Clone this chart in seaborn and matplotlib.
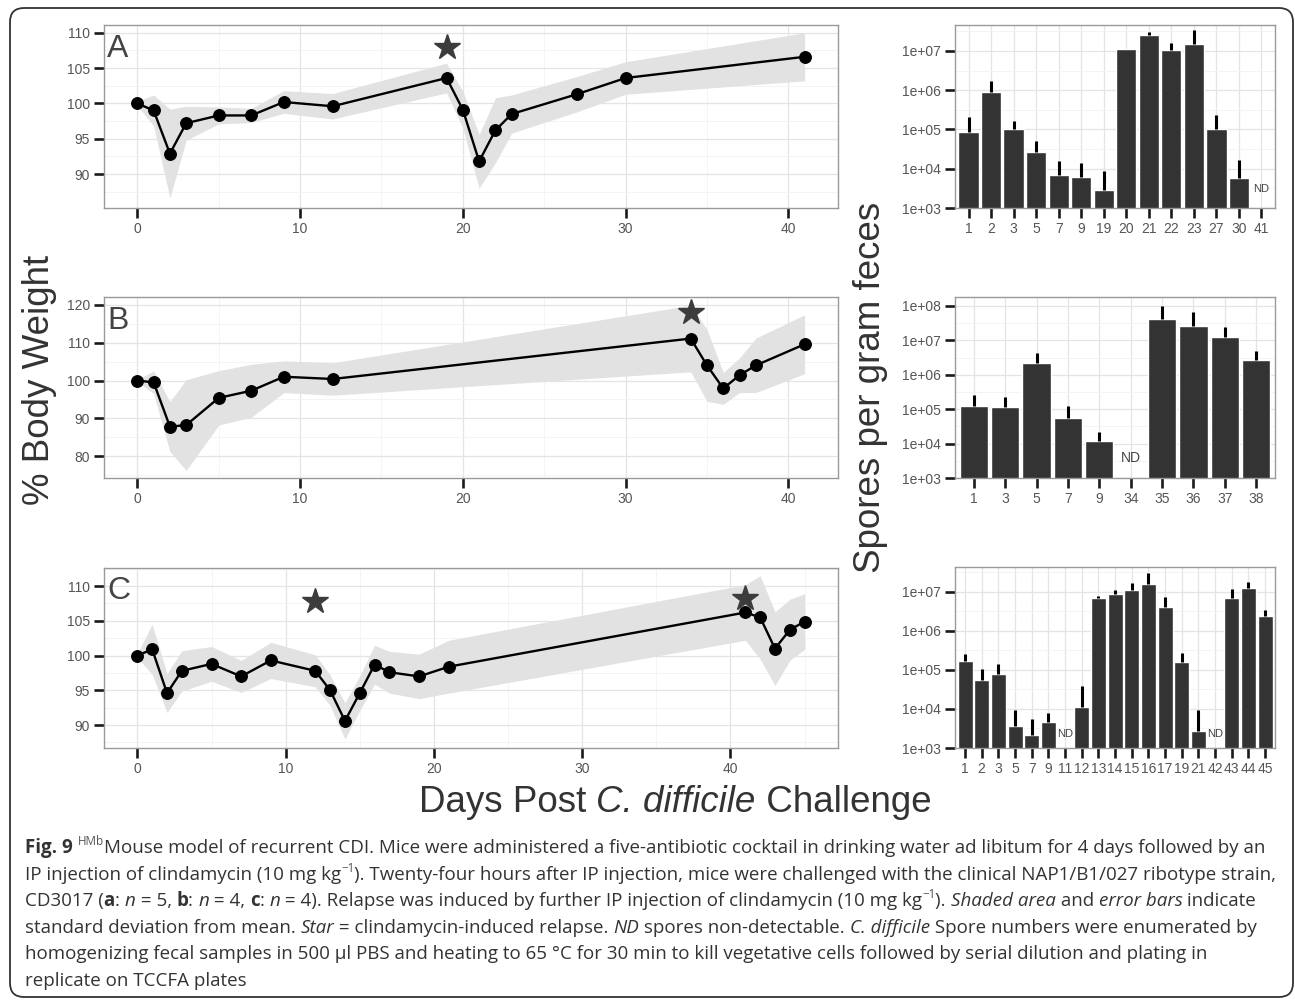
import numpy as np
import pandas as pd
import matplotlib
matplotlib.use("Agg")
import matplotlib.pyplot as plt
import seaborn as sns
from matplotlib.patches import FancyBboxPatch
from matplotlib.ticker import FixedLocator, MultipleLocator, NullFormatter

# ---------------------------
# data
# ---------------------------

# A: body weight (% of day 0), mean and SD
days_a = [0, 1, 2, 3, 5, 7, 9, 12, 19, 20, 21, 22, 23, 27, 30, 41]
weight_a = [100, 99.0, 92.9, 97.2, 98.3, 98.3, 100.2, 99.6, 103.6, 99.1, 91.8, 96.2, 98.5, 101.3, 103.6, 106.6]
sd_a = [0.3, 2.2, 6.3, 2.4, 1.2, 1.0, 1.6, 1.8, 2.1, 2.6, 3.8, 4.6, 2.7, 2.5, 2.3, 3.4]
star_a_day = [19]
star_a_y = [108.0]

# B
days_b = [0, 1, 2, 3, 5, 7, 9, 12, 34, 35, 36, 37, 38, 41]
weight_b = [100, 99.5, 87.8, 88.2, 95.4, 97.3, 101.0, 100.4, 111.1, 104.0, 97.9, 101.4, 104.0, 109.6]
sd_b = [0.3, 3.0, 6.6, 12.0, 7.2, 7.0, 4.2, 4.3, 8.8, 9.5, 4.2, 4.6, 7.2, 7.8]
star_b_day = [34]
star_b_y = [118.0]

# C
days_c = [0, 1, 2, 3, 5, 7, 9, 12, 13, 14, 15, 16, 17, 19, 21, 41, 42, 43, 44, 45]
weight_c = [100, 100.9, 94.6, 97.8, 98.8, 97.0, 99.3, 97.8, 95.0, 90.6, 94.6, 98.7, 97.6, 97.0, 98.4,
            106.2, 105.5, 101.0, 103.7, 104.9]
sd_c = [0.3, 3.6, 2.8, 2.9, 2.5, 2.3, 2.6, 2.3, 2.2, 2.6, 2.5, 2.8, 3.0, 3.2, 3.8,
        4.0, 6.0, 5.3, 4.4, 4.0]
star_c_day = [12, 41]
star_c_y = [107.8, 108.3]

# spores per gram feces (NaN = not detectable), upper end of error bar
spore_days_a = ['1', '2', '3', '5', '7', '9', '19', '20', '21', '22', '23', '27', '30', '41']
spores_a = [8.7e4, 8.9e5, 1.0e5, 2.7e4, 7.1e3, 6.3e3, 2.9e3, 1.15e7, 2.6e7, 1.07e7, 1.5e7, 1.0e5, 5.9e3, np.nan]
spores_a_hi = [2.1e5, 1.7e6, 1.66e5, 5.1e4, 1.55e4, 1.4e4, 8.7e3, 1.15e7, 3.0e7, 1.6e7, 3.5e7, 2.4e5, 1.7e4, np.nan]

spore_days_b = ['1', '3', '5', '7', '9', '34', '35', '36', '37', '38']
spores_b = [1.26e5, 1.18e5, 2.15e6, 5.5e4, 1.2e4, np.nan, 4.3e7, 2.7e7, 1.26e7, 2.6e6]
spores_b_hi = [2.5e5, 2.2e5, 4.2e6, 1.26e5, 2.2e4, np.nan, 1.0e8, 6.8e7, 2.5e7, 4.9e6]

spore_days_c = ['1', '2', '3', '5', '7', '9', '11', '12', '13', '14', '15', '16', '17', '19', '21', '42', '43', '44', '45']
spores_c = [1.74e5, 5.5e4, 7.9e4, 3.7e3, 2.2e3, 4.6e3, np.nan, 1.15e4, 6.9e6, 9.1e6, 1.1e7, 1.58e7, 4.2e6,
            1.6e5, 2.8e3, np.nan, 6.9e6, 1.24e7, 2.4e6]
spores_c_hi = [2.6e5, 1.07e5, 1.4e5, 9.3e3, 5.6e3, 7.8e3, np.nan, 3.8e4, 8.1e6, 1.15e7, 1.7e7, 3.1e7, 7.4e6,
               2.75e5, 9.3e3, np.nan, 1.2e7, 1.8e7, 3.5e6]

log_ticks = [1e3, 1e4, 1e5, 1e6, 1e7, 1e8]
log_tick_labels = ['1e+03', '1e+04', '1e+05', '1e+06', '1e+07', '1e+08']

# ---------------------------
# setup
# ---------------------------
sns.set_theme(style="whitegrid")
plt.rcParams['font.family'] = ['Liberation Sans', 'DejaVu Sans']

W, H = 1295, 1000
fig = plt.figure(figsize=(W / 100, H / 100), dpi=100)
fig.patch.set_facecolor('white')

# full-figure axes in pixel units for frame, titles and caption
frame = fig.add_axes([0, 0, 1, 1], zorder=-5)
frame.set_xlim(0, W)
frame.set_ylim(H, 0)
frame.axis('off')
frame.add_patch(FancyBboxPatch((10, 8), 1283, 989, boxstyle="round,pad=0,rounding_size=14",
                               fc='white', ec='#333333', lw=1.3))


def px_rect(left, top, right, bottom):
    return [left / W, 1 - bottom / H, (right - left) / W, (bottom - top) / H]


def style_axes(ax):
    ax.set_facecolor('white')
    ax.set_axisbelow(True)
    for s in ax.spines.values():
        s.set_visible(True)
        s.set_color('#9a9a9a')
        s.set_linewidth(1.0)
    ax.tick_params(which='major', length=7, width=1.9, color='#1a1a1a', labelsize=10,
                   labelcolor='#555555', pad=3, left=True, bottom=True)
    ax.tick_params(which='minor', length=0, left=False, bottom=False)
    ax.grid(which='major', color='#e4e4e4', lw=0.9)
    ax.grid(which='minor', color='#f2f2f2', lw=0.6)
    ax.set_xlabel('')
    ax.set_ylabel('')


def weight_panel(rect, days, weight, sd, star_day, star_y, letter, ylim, ystep, xmax):
    ax = fig.add_axes(rect)
    lo = np.array(weight) - np.array(sd)
    hi = np.array(weight) + np.array(sd)
    ax.fill_between(days, lo, hi, color='#e2e2e2', lw=0, zorder=1)
    sns.lineplot(x=days, y=weight, ax=ax, color='black', lw=1.7, marker='o', markersize=8.5,
                 markeredgecolor='black', zorder=3)
    ax.plot(star_day, star_y, ls='none', marker='*', ms=19, color='#3c3c3c', zorder=4)
    ax.set_xlim(-0.05 * xmax, 1.05 * xmax)
    ax.set_ylim(*ylim)
    ax.xaxis.set_major_locator(FixedLocator([0, 10, 20, 30, 40]))
    ax.xaxis.set_minor_locator(MultipleLocator(5))
    ax.yaxis.set_major_locator(MultipleLocator(ystep))
    ax.yaxis.set_minor_locator(MultipleLocator(ystep / 2))
    ax.yaxis.set_minor_formatter(NullFormatter())
    style_axes(ax)
    ax.text(0.004, 0.87, letter, transform=ax.transAxes, fontsize=23, color='#444444',
            ha='left', va='center')
    return ax


def spore_panel(rect, labels, vals, hi, ytop, nd_y, nd_size):
    ax = fig.add_axes(rect)
    df = pd.DataFrame({'day': labels, 'spores': vals})
    sns.barplot(data=df, x='day', y='spores', order=labels, color='#333333', saturation=1,
                width=0.9, errorbar=None, ax=ax, zorder=2)
    ax.set_yscale('log')
    x = np.arange(len(labels))
    v = np.array(vals)
    e = np.array(hi)
    ok = ~np.isnan(v)
    ax.vlines(x[ok], v[ok], e[ok], color='black', lw=2.2, zorder=3)
    for i in x[~ok]:
        ax.text(i, nd_y, 'ND', ha='center', va='center', fontsize=nd_size, color='#444444')
    ax.set_ylim(1e3, ytop)
    ax.set_xlim(-0.6, len(labels) - 0.4)
    ax.yaxis.set_major_locator(FixedLocator([t for t in log_ticks if t <= ytop]))
    ax.set_yticklabels([l for t, l in zip(log_ticks, log_tick_labels) if t <= ytop])
    ax.yaxis.set_minor_locator(FixedLocator([10 ** (k + 0.5) for k in range(3, 9)]))
    ax.yaxis.set_minor_formatter(NullFormatter())
    style_axes(ax)
    ax.xaxis.grid(True, which='major', color='#e4e4e4', lw=0.9)
    return ax


# ---------------------------
# panels
# ---------------------------
weight_panel(px_rect(104, 25, 838, 208), days_a, weight_a, sd_a, star_a_day, star_a_y, 'A',
             (85.2, 111.1), 5, 41)
weight_panel(px_rect(104, 297, 838, 478), days_b, weight_b, sd_b, star_b_day, star_b_y, 'B',
             (74.2, 122.1), 10, 41)
weight_panel(px_rect(104, 568, 838, 748), days_c, weight_c, sd_c, star_c_day, star_c_y, 'C',
             (86.7, 112.6), 5, 45)

spore_panel(px_rect(955, 25, 1275, 208), spore_days_a, spores_a, spores_a_hi, 10 ** 7.66, 3.0e3, 8)
spore_panel(px_rect(955, 297, 1275, 478), spore_days_b, spores_b, spores_b_hi, 10 ** 8.26, 3.8e3, 10)
spore_panel(px_rect(955, 567, 1275, 748), spore_days_c, spores_c, spores_c_hi, 10 ** 7.64, 2.35e3, 8)

# ---------------------------
# titles and caption (rich text built piece by piece)
# ---------------------------
renderer = fig.canvas.get_renderer()


def seg_kw(style, size, family):
    kw = dict(fontsize=size, family=family, color='#333333')
    if style == 'b':
        kw['fontweight'] = 'bold'
    elif style == 'i':
        kw['fontstyle'] = 'italic'
    elif style == 's':
        kw['fontsize'] = size * 0.62
        kw['color'] = '#555555'
    return kw


def seg_width(s, kw):
    t1 = frame.text(0, 0, '|' + s + '|', **kw)
    t2 = frame.text(0, 0, '||', **kw)
    w = t1.get_window_extent(renderer).width - t2.get_window_extent(renderer).width
    t1.remove()
    t2.remove()
    return w


def rich_line(x, y, segs, size, family, draw=True):
    for s, style in segs:
        kw = seg_kw(style, size, family)
        dy = -size * 100 / 72 * 0.42 if style == 's' else 0
        if draw:
            frame.text(x, y + dy, s, ha='left', va='baseline', **kw)
        x += seg_width(s, kw)
    return x


axis_font = ['Liberation Sans', 'DejaVu Sans']
frame.text(40, 380, '% Body Weight', rotation=90, ha='center', va='center', fontsize=26.5,
           color='#333333', family=axis_font)
frame.text(870, 387, 'Spores per gram feces', rotation=90, ha='center', va='center', fontsize=26.5,
           color='#333333', family=axis_font)

xlab = [('Days Post ', 'n'), ('C. difficile', 'i'), (' Challenge', 'n')]
xlab_w = rich_line(0, 0, xlab, 26.5, axis_font, draw=False)
rich_line(675 - xlab_w / 2, 812, xlab, 26.5, axis_font)

cap_font = ['Open Sans', 'DejaVu Sans']
caption_lines = [
    [('Fig. 9', 'b'), (' ', 'n'), ('HMb', 's'),
     ('Mouse model of recurrent CDI. Mice were administered a five-antibiotic cocktail in drinking water '
      'ad libitum for 4 days followed by an', 'n')],
    [('IP injection of clindamycin (10 mg kg', 'n'), ('\u22121', 's'),
     ('). Twenty-four hours after IP injection, mice were challenged with the clinical NAP1/B1/027 '
      'ribotype strain,', 'n')],
    [('CD3017 (', 'n'), ('a', 'b'), (': ', 'n'), ('n', 'i'), (' = 5, ', 'n'), ('b', 'b'), (': ', 'n'),
     ('n', 'i'), (' = 4, ', 'n'), ('c', 'b'), (': ', 'n'), ('n', 'i'),
     (' = 4). Relapse was induced by further IP injection of clindamycin (10 mg kg', 'n'), ('\u22121', 's'),
     ('). ', 'n'), ('Shaded area', 'i'), (' and ', 'n'), ('error bars', 'i'), (' indicate', 'n')],
    [('standard deviation from mean. ', 'n'), ('Star', 'i'), (' = clindamycin-induced relapse. ', 'n'),
     ('ND', 'i'), (' spores non-detectable. ', 'n'), ('C. difficile', 'i'),
     (' Spore numbers were enumerated by', 'n')],
    [('homogenizing fecal samples in 500 \u00b5l PBS and heating to 65 \u00b0C for 30 min to kill '
      'vegetative cells followed by serial dilution and plating in', 'n')],
    [('replicate on TCCFA plates', 'n')],
]
for k, segs in enumerate(caption_lines):
    rich_line(25, 853 + 26.6 * k, segs, 13.5, cap_font)

fig.savefig('out.png', dpi=100)
